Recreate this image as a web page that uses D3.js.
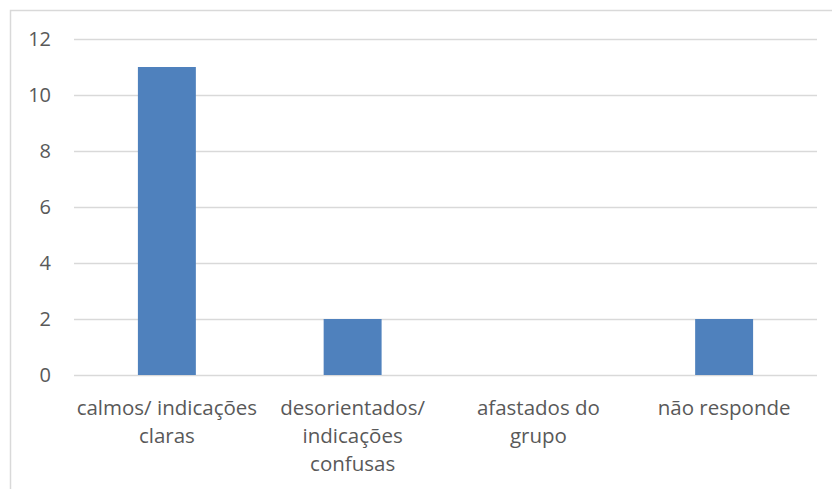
<!DOCTYPE html>
<meta charset="utf-8">
<head>
  <title>Bar chart</title>
  <style>
    body { margin: 0; background: #fff; }
    text { font-family: "Open Sans", "Noto Sans", sans-serif; fill: #595959; }
  </style>
</head>
<body>
<script src="https://d3js.org/d3.v7.min.js"></script>
<script>
var WIDTH = 832,
    HEIGHT = 489;

var categories = ["calmos/ indicações claras", "desorientados/ indicações confusas", "afastados do grupo", "não responde"];
var labelLines = [["calmos/ indicações", "claras"], ["desorientados/", "indicações", "confusas"], ["afastados do", "grupo"], ["não responde"]];
var values = [11, 2, 0, 2];
var yTicks = [0, 2, 4, 6, 8, 10, 12];

var margin = {left: 74, right: 15, top: 39, bottom: 114};

var svg = d3.select("body").append("svg")
    .attr("width", WIDTH)
    .attr("height", HEIGHT);

// chart frame (only top and left edges show in the crop)
svg.append("path")
    .attr("d", "M10.5," + HEIGHT + "V10.5H" + WIDTH)
    .attr("fill", "none")
    .attr("stroke", "#d9d9d9")
    .attr("stroke-width", 1.5);

var x = d3.scaleBand()
    .domain(categories)
    .range([margin.left, WIDTH - margin.right])
    .paddingInner(0.688)
    .paddingOuter(0.344);

var y = d3.scaleLinear()
    .domain([0, 12])
    .range([HEIGHT - margin.bottom, margin.top]);

// gridlines
svg.append("g")
  .selectAll("line")
  .data(yTicks)
  .join("line")
    .attr("x1", margin.left)
    .attr("x2", WIDTH - margin.right)
    .attr("y1", function(d) { return Math.round(y(d)) + 0.5; })
    .attr("y2", function(d) { return Math.round(y(d)) + 0.5; })
    .attr("stroke", "#d9d9d9")
    .attr("stroke-width", 1.3);

// bars
svg.append("g")
  .selectAll("rect")
  .data(values)
  .join("rect")
    .attr("x", function(d, i) { return x(categories[i]); })
    .attr("y", function(d) { return y(d); })
    .attr("width", x.bandwidth())
    .attr("height", function(d) { return y(0) - y(d); })
    .attr("fill", "#4f81bd");

// y tick labels
svg.append("g")
  .selectAll("text")
  .data(yTicks)
  .join("text")
    .attr("x", 51)
    .attr("y", function(d) { return y(d); })
    .attr("dy", "0.35em")
    .attr("text-anchor", "end")
    .style("font-size", "20px")
    .text(function(d) { return d; });

// category labels
var lab = svg.append("g")
  .selectAll("text")
  .data(categories)
  .join("text")
    .attr("text-anchor", "middle")
    .style("font-size", "20.5px");

lab.selectAll("tspan")
  .data(function(d, i) { return labelLines[i].map(function(t) { return {t: t, c: d}; }); })
  .join("tspan")
    .attr("x", function(d) { return x(d.c) + x.bandwidth() / 2; })
    .attr("y", function(d, j) { return 415 + j * 28; })
    .text(function(d) { return d.t; });
</script>
</body>
